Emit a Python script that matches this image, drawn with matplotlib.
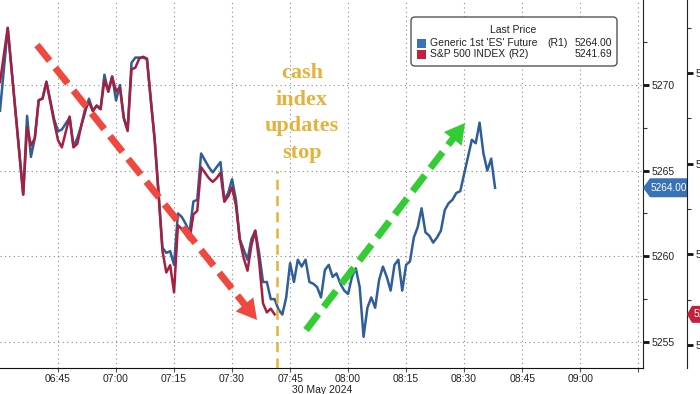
import numpy as np
import pandas as pd
import matplotlib
matplotlib.use("Agg")
import matplotlib.pyplot as plt
from matplotlib.ticker import MultipleLocator
from matplotlib.patches import Polygon, FancyBboxPatch
from matplotlib.transforms import IdentityTransform

# ES future (R1), 1-minute closes
es_times = ["06:30", "06:32", "06:36", "06:37", "06:38", "06:39", "06:40", "06:41", "06:42", "06:44",
            "06:45", "06:46", "06:48", "06:49", "06:50", "06:51", "06:52", "06:53", "06:54", "06:55",
            "06:56", "06:57", "06:58", "06:59", "07:00", "07:01", "07:02", "07:03", "07:04", "07:05",
            "07:06", "07:07", "07:08", "07:09", "07:10", "07:11", "07:12", "07:13", "07:14", "07:15",
            "07:16", "07:17", "07:18", "07:19", "07:20", "07:21", "07:22", "07:23", "07:24", "07:25",
            "07:26", "07:27", "07:28", "07:29", "07:30", "07:31", "07:32", "07:33", "07:34", "07:35",
            "07:36", "07:37", "07:38", "07:39", "07:40", "07:41", "07:42", "07:43", "07:44", "07:45",
            "07:46", "07:47", "07:48", "07:49", "07:50", "07:51", "07:52", "07:53", "07:54", "07:55",
            "07:56", "07:57", "07:58", "07:59", "08:00", "08:01", "08:02", "08:03", "08:04", "08:05",
            "08:06", "08:07", "08:08", "08:09", "08:10", "08:11", "08:12", "08:13", "08:14", "08:15",
            "08:16", "08:17", "08:18", "08:19", "08:20", "08:21", "08:22", "08:23", "08:24", "08:25",
            "08:26", "08:27", "08:28", "08:29", "08:30", "08:31", "08:32", "08:33", "08:34", "08:35",
            "08:36", "08:37", "08:38"]
es_vals = [5268.5, 5273.3, 5263.6, 5268.2, 5265.8, 5266.9, 5269.1, 5269.2, 5270.2, 5268.0,
           5267.3, 5267.4, 5268.1, 5266.4, 5266.9, 5267.6, 5268.4, 5269.2, 5268.5, 5268.8,
           5268.6, 5270.6, 5269.6, 5270.5, 5269.1, 5270.0, 5268.1, 5267.4, 5271.3, 5271.6,
           5271.6, 5271.6, 5271.5, 5269.1, 5266.8, 5263.7, 5260.5, 5260.2, 5260.3, 5259.5,
           5262.5, 5262.3, 5261.9, 5261.4, 5263.2, 5263.3, 5266.0, 5265.6, 5265.2, 5264.9,
           5265.2, 5265.5, 5263.3, 5263.7, 5264.5, 5263.3, 5261.0, 5260.4, 5259.8, 5261.0,
           5261.5, 5260.2, 5258.5, 5258.5, 5257.5, 5257.5, 5256.9, 5256.6, 5257.6, 5259.6,
           5258.5, 5259.8, 5259.4, 5259.8, 5258.5, 5258.4, 5258.2, 5257.6, 5259.2, 5259.5,
           5258.8, 5259.0, 5258.4, 5258.0, 5257.8, 5258.8, 5259.3, 5258.2, 5255.3, 5257.0,
           5257.6, 5257.0, 5258.6, 5259.4, 5258.8, 5258.0, 5259.5, 5259.8, 5258.0, 5259.5,
           5259.7, 5261.1, 5261.7, 5262.8, 5261.4, 5261.2, 5260.8, 5261.1, 5261.5, 5262.7,
           5263.1, 5263.3, 5263.7, 5263.8, 5264.8, 5265.8, 5266.8, 5266.6, 5267.8, 5266.0,
           5265.0, 5265.7, 5264.00]

# S&P 500 index (R2), stops updating ~07:41
spx_times = es_times[:66]
spx_vals = [5254.5, 5257.5, 5248.3, 5252.0, 5251.0, 5251.4, 5253.5, 5253.6, 5254.5, 5252.3,
            5251.3, 5250.9, 5252.6, 5250.9, 5251.1, 5252.1, 5253.0, 5253.4, 5252.9, 5253.2,
            5253.0, 5254.6, 5254.0, 5254.8, 5254.0, 5254.2, 5252.5, 5251.8, 5255.2, 5255.3,
            5255.8, 5255.9, 5255.8, 5253.5, 5251.3, 5248.3, 5245.2, 5244.0, 5244.4, 5242.9,
            5246.6, 5246.4, 5246.1, 5245.8, 5247.2, 5247.4, 5249.8, 5249.5, 5249.2, 5249.0,
            5249.2, 5249.5, 5247.9, 5248.2, 5248.7, 5247.7, 5245.8, 5244.8, 5244.1, 5245.5,
            5246.3, 5244.6, 5242.3, 5241.8, 5242.0, 5241.69]

x_ticks = ["06:45", "07:00", "07:15", "07:30", "07:45", "08:00", "08:15", "08:30", "08:45", "09:00", "09:15"]
r1_ticks = [5255, 5260, 5265, 5270]
r2_ticks = [5240, 5245, 5250, 5255]
cut_time = "07:41:36"

day = "2024-05-30 "
es_t = pd.to_datetime([day + t for t in es_times])
spx_t = pd.to_datetime([day + t for t in spx_times])

blue = "#2f5e9a"
red = "#a5203f"
gold = "#e6b23a"
plt.rcParams["font.family"] = ["Liberation Sans", "DejaVu Sans"]

fig = plt.figure(figsize=(7, 3.94), dpi=100)
W, H = 700, 394
ax = fig.add_axes([0, 26 / H, 643 / W, 368 / H])
ax2 = ax.twinx()

ax.plot(es_t, es_vals, color=blue, lw=1.8, zorder=3)
ax2.plot(spx_t, spx_vals, color=red, lw=1.8, zorder=3)

ax.set_xlim(pd.Timestamp(day + "06:30"), pd.Timestamp(day + "09:16:15"))
ax.set_ylim(5253.48, 5274.96)
ax2.set_ylim(5238.73, 5259.03)

# spines
for s in ["top", "left"]:
    ax.spines[s].set_visible(False)
    ax2.spines[s].set_visible(False)
ax2.spines["bottom"].set_visible(False)
ax.spines["bottom"].set_color("#111111")
ax.spines["right"].set_color("#222222")
ax2.spines["right"].set_color("#222222")
ax2.spines["right"].set_position(("axes", 687 / 643))

# x axis
ax.set_xticks(pd.to_datetime([day + t for t in x_ticks]))
ax.set_xticklabels(x_ticks[:-1] + [""])
ax.tick_params(axis="x", length=3, color="#555555", labelsize=7.5, labelcolor="#222222", pad=1.5)
fig.text(322 / W, 1 - 390 / H, "30 May 2024", ha="center", va="center", fontsize=7.5, color="#222222")

# y axes
ax.yaxis.tick_right()
ax.set_yticks(r1_ticks)
ax.yaxis.set_minor_locator(MultipleLocator(2.5))
ax.tick_params(axis="y", which="major", length=4, width=2, color="#111111",
               labelsize=7.5, labelcolor="#222222", pad=2)
ax.tick_params(axis="y", which="minor", length=3, width=0.8, color="#333333")
ax2.set_yticks(r2_ticks)
ax2.yaxis.set_minor_locator(MultipleLocator(2.5))
ax2.tick_params(axis="y", which="major", length=4, width=2, color="#111111",
                labelsize=7.5, labelcolor="#222222", pad=2)
ax2.tick_params(axis="y", which="minor", length=3, width=0.8, color="#333333")

ax.grid(True, which="major", linestyle=(0, (1, 3)), color="#8a8a8a", lw=0.8)

# cash index stop line + text
ax.axvline(pd.Timestamp(day + cut_time), ymin=0, ymax=0.535, color=gold, lw=1.8,
           dashes=(4, 2.5), zorder=4)
fig.text(302 / W, 1 - 113 / H, "cash\nindex\nupdates\nstop", ha="center", va="center",
         fontsize=16, fontweight="bold", color=gold, family="Liberation Serif", linespacing=1.45)


def dashed_arrow(p0, p1, color, lw):
    # p0, p1 in axes pixel space (origin top-left of axes)
    x0, y0 = p0[0] / 643, (368 - p0[1]) / 368
    x1, y1 = p1[0] / 643, (368 - p1[1]) / 368
    dx, dy = p1[0] - p0[0], p1[1] - p0[1]
    L = np.hypot(dx, dy)
    bx, by = p1[0] - dx / L * 16, p1[1] - dy / L * 16
    ax2.plot([x0, bx / 643], [y0, (368 - by) / 368], transform=ax2.transAxes, color=color,
             lw=lw, dashes=(2.9, 1.3), solid_capstyle="butt", dash_capstyle="butt", zorder=6)
    ax2.annotate("", xy=(x1, y1), xytext=(bx / 643, (368 - by) / 368), xycoords="axes fraction",
                 arrowprops=dict(arrowstyle="-|>,head_length=0.8,head_width=0.45",
                                 mutation_scale=18, color=color, lw=0, shrinkA=0, shrinkB=0),
                 zorder=6)


dashed_arrow((37, 45), (257, 320), "#f0483e", 5)
dashed_arrow((306, 330), (465, 123), "#33cc33", 5)

# price badges
v = es_vals[-1]
h = 9.5 / 17.13
badge = Polygon([(1.0, v), (1 + 7 / 643, v + h), (1 + 44 / 643, v + h), (1 + 44 / 643, v - h),
                 (1 + 7 / 643, v - h)], closed=True, transform=ax.get_yaxis_transform(),
                facecolor="#3a72b6", edgecolor="none", clip_on=False, zorder=7)
ax.add_patch(badge)
ax.text(1 + 26 / 643, v, f"{v:.2f}", transform=ax.get_yaxis_transform(), ha="center", va="center",
        fontsize=7.2, color="white", clip_on=False, zorder=8)

v2 = spx_vals[-1]
h2 = 8.5 / 18.13
x2 = 687 / 643
badge2 = Polygon([(x2, v2), (x2 + 5 / 643, v2 + h2), (x2 + 46 / 643, v2 + h2), (x2 + 46 / 643, v2 - h2),
                  (x2 + 5 / 643, v2 - h2)], closed=True, transform=ax2.get_yaxis_transform(),
                 facecolor="#c2203c", edgecolor="none", clip_on=False, zorder=7)
ax2.add_patch(badge2)
ax2.text(x2 + 7 / 643, v2, f"{v2:.2f}", transform=ax2.get_yaxis_transform(), ha="left", va="center",
         fontsize=7.5, color="white", clip_on=False, zorder=8)

# legend box
box = FancyBboxPatch((411, H - 66), 206, 49, boxstyle="round,pad=0,rounding_size=4",
                     transform=IdentityTransform(), facecolor="white", edgecolor="#555555", lw=1,
                     zorder=10)
fig.patches.append(box)
fig.text(513 / W, 1 - 30 / H, "Last Price", ha="center", va="center", fontsize=7.5, color="#222222", zorder=11)
rows = [("Generic 1st 'ES' Future", "(R1)", f"{es_vals[-1]:.2f}", "#3a72b6", 43, 547),
        ("S&P 500 INDEX", "(R2)", f"{spx_vals[-1]:.2f}", "#c2203c", 54, 508)]
for name, axis_tag, last, col, yy, xtag in rows:
    sq = FancyBboxPatch((417, H - yy - 4.5), 9, 9, boxstyle="square,pad=0", transform=IdentityTransform(),
                        facecolor=col, edgecolor="none", zorder=11)
    fig.patches.append(sq)
    fig.text(430 / W, 1 - yy / H, name, ha="left", va="center", fontsize=7.5, color="#222222", zorder=11)
    fig.text(xtag / W, 1 - yy / H, axis_tag, ha="left", va="center", fontsize=7.5, color="#222222", zorder=11)
    fig.text(612 / W, 1 - yy / H, last, ha="right", va="center", fontsize=7.5, color="#222222", zorder=11)

fig.savefig("out.png", dpi=100)
